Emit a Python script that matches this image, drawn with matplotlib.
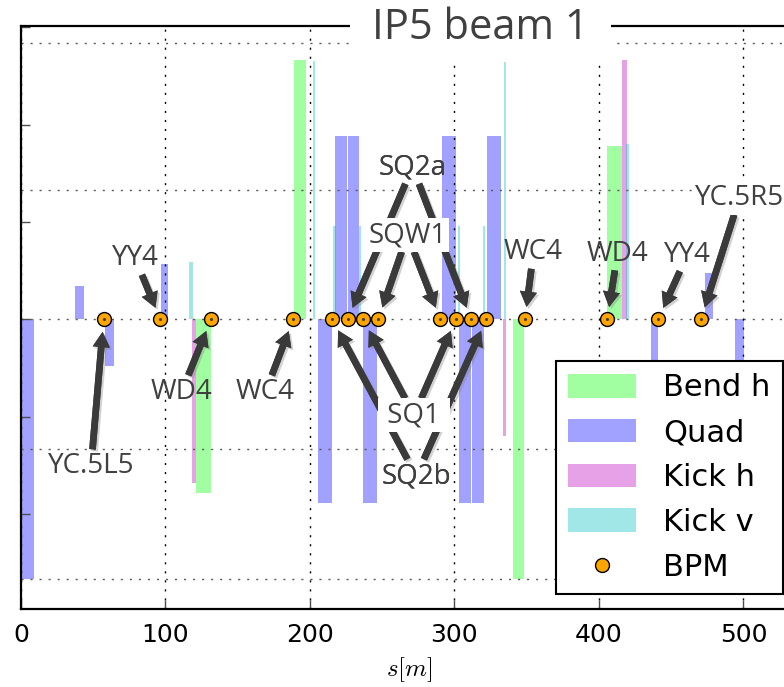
import numpy as np
import matplotlib.pyplot as plt
import matplotlib.patheffects as pe
from matplotlib.patches import Rectangle

plt.rcParams['mathtext.fontset'] = 'cm'

# magnet elements: start s [m], length [m], normalised strength
bend_s = [121.1, 189.0, 340.6, 405.9]
bend_l = [10.4, 8.3, 7.6, 10.4]
bend_k = [-1.785, 2.665, -2.669, 1.78]

quad_s = [0.0, 37.4, 58.1, 97.1, 205.4, 217.4, 226.1, 236.7,
          291.2, 303.4, 312.0, 322.4, 435.9, 473.5, 494.3, 528.8]
quad_l = [9.0, 6.2, 6.3, 4.4, 9.9, 8.1, 8.1, 9.7,
          9.9, 7.9, 8.3, 9.9, 4.8, 5.7, 5.8, 9.0]
quad_k = [-2.669, 0.342, -0.48, 0.568, -1.888, 1.884, 1.884, -1.888,
          1.884, -1.888, -1.888, 1.884, -0.57, 0.473, -0.6, 2.669]

kickh_s = [118.4, 333.9, 416.2]
kickh_l = [2.7, 1.6, 3.0]
kickh_k = [-1.68, -1.20, 2.665]

kickv_s = [116.3, 202.1, 216.2, 234.0, 302.3, 320.0, 334.3, 418.6]
kickv_l = [2.7, 1.4, 1.8, 1.4, 1.4, 1.4, 1.4, 2.5]
kickv_k = [0.59, 2.655, 0.96, 0.96, 0.96, 0.96, 2.65, 1.80]

bpm_s = [57.2, 96.4, 131.5, 188.4, 215.4, 226.1, 236.7, 247.3,
         290.2, 301.0, 311.6, 322.0, 348.8, 405.7, 441.0, 470.6]

# BPM labels and the monitors (index into bpm_s) each one points at
bpm_names = ['YC.5L5', 'YY4', 'WD4', 'WC4', 'SQ2a', 'SQ2b', 'SQW1', ' SQ1 ',
             'WC4', 'WD4', 'YY4', 'YC.5R5']
bpm_targets = [[0], [1], [2], [3], [5, 10], [4, 11], [7, 8], [6, 9],
               [12], [13], [14], [15]]

# where the labels sit (s, y of baseline)
label_pos = [(48.5, -1.58), (78.9, 0.558), (111.1, -0.819), (169.2, -0.819),
             (271.0, 1.493), (273.7, -1.682), (267.5, 0.794), (272.0, -1.056),
             (354.7, 0.62), (412.9, 0.604), (461.3, 0.594), (497.3, 1.175)]
boxed = ['SQW1', ' SQ1 ', 'YC.5R5']

hgrid = [2.84, 1.329, 0.0, -1.333, -2.669]

fig = plt.figure(figsize=(7.84, 6.87), dpi=100)
ax = fig.add_axes([21 / 784, 77.7 / 687, 777 / 784, 583.8 / 687])

b1 = ax.bar(bend_s, bend_k, width=bend_l, align='edge', color='lime', alpha=0.37, lw=0)
b2 = ax.bar(quad_s, quad_k, width=quad_l, align='edge', color='blue', alpha=0.37, lw=0)
b3 = ax.bar(kickh_s, kickh_k, width=kickh_l, align='edge', color='m', alpha=0.37, lw=0)
b4 = ax.bar(kickv_s, kickv_k, width=kickv_l, align='edge', color='c', alpha=0.37, lw=0)

zeros = np.zeros(len(bpm_s))
bpm, = ax.plot(bpm_s, zeros, ls='none', marker='o', mfc='orange', mec='k', ms=10, mew=1,
               zorder=4)
ax.plot(bpm_s, zeros, ls='none', marker='.', ms=2.5, color='0.25', zorder=4.5)

dots = (0, (1.5, 5))
for yv in hgrid:
    ax.axhline(yv, color='0.35', lw=1, ls=dots, zorder=1.5)
ax.grid(axis='x', color='k', lw=1, ls=dots)

arrow = dict(arrowstyle='simple,head_length=0.55,head_width=0.62,tail_width=0.24',
             fc='#3a3a3a', ec='none', shrinkA=0, shrinkB=9,
             path_effects=[pe.withSimplePatchShadow(offset=(1.5, -1.5), shadow_rgbFace='0.5', alpha=0.35),
                           pe.Normal()])
for name, targets, pos in zip(bpm_names, bpm_targets, label_pos):
    box = dict(boxstyle='square,pad=0.1', fc='white', ec='none') if name in boxed else None
    for i in targets:
        ax.annotate(name, xy=(bpm_s[i], 0), xytext=pos, ha='center', va='baseline',
                    fontsize=20, family='Open Sans', color='#404040',
                    bbox=box, arrowprops=arrow, zorder=5)

ax.set_xlim(0, 537.8)
ax.set_ylim(-2.98, 3.02)
ax.set_xticks([0, 100, 200, 300, 400, 500])
ax.set_yticks(range(-2, 4))
ax.set_yticklabels([])
ax.tick_params(direction='in', length=6.5, width=1, color='0.3', labelsize=18, pad=10)
for side in ['left', 'top', 'bottom', 'right']:
    ax.spines[side].set_linewidth(1.6)
ax.set_xlabel('$s[m]$', fontsize=18, labelpad=6)

# title sits on the top frame line with a white patch behind it
ax.add_patch(Rectangle((0.4234, 0.9409), 0.336, 0.2, transform=ax.transAxes,
                       fc='white', ec='none', zorder=3, clip_on=False))
ax.text(0.5907, 0.9769, 'IP5 beam 1', transform=ax.transAxes, ha='center', va='baseline',
        fontsize=30, family='Open Sans', color='#404040', zorder=4)

leg = ax.legend([b1, b2, b3, b4, bpm], ['Bend h', 'Quad', 'Kick h', 'Kick v', 'BPM'],
                loc='lower right', fontsize=22, handlelength=2.2, handleheight=0.82,
                handletextpad=0.9, labelspacing=0.52, numpoints=1, fancybox=False,
                framealpha=1, edgecolor='k', borderaxespad=0.5)
leg.get_frame().set_linewidth(1.5)
leg.set_zorder(6)

fig.savefig('out.png', dpi=100)
